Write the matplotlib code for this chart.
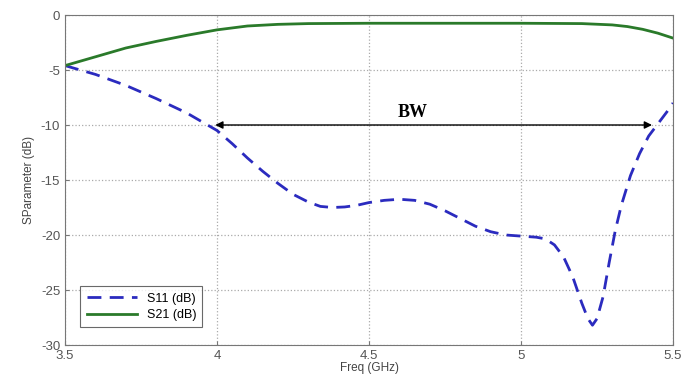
import matplotlib as mpl
mpl.use('Agg')
import matplotlib.pyplot as plt

# S11
freq_s11 = [3.5, 3.6, 3.7, 3.8, 3.9, 3.95, 4.0, 4.05, 4.1, 4.15, 4.2, 4.25, 4.3,
            4.34, 4.38, 4.42, 4.46, 4.5, 4.55, 4.6, 4.65, 4.7, 4.75, 4.8, 4.85,
            4.9, 4.95, 5.0, 5.05, 5.08, 5.11, 5.14, 5.17, 5.2, 5.22, 5.235, 5.25,
            5.27, 5.29, 5.31, 5.33, 5.36, 5.39, 5.42, 5.45, 5.48, 5.5]
s11 = [-4.6, -5.4, -6.4, -7.6, -8.9, -9.7, -10.5, -11.7, -13.0, -14.2, -15.3,
       -16.3, -17.0, -17.4, -17.5, -17.45, -17.3, -17.05, -16.85, -16.75, -16.85,
       -17.2, -17.8, -18.5, -19.2, -19.7, -20.0, -20.1, -20.2, -20.35, -20.9,
       -22.0, -23.8, -26.2, -27.6, -28.2, -27.6, -25.6, -22.5, -19.6, -17.3,
       -14.6, -12.6, -11.0, -9.9, -8.8, -8.0]

# S21
freq_s21 = [3.5, 3.6, 3.7, 3.8, 3.9, 4.0, 4.1, 4.2, 4.3, 4.5, 5.0, 5.2, 5.3,
            5.35, 5.4, 5.45, 5.5]
s21 = [-4.6, -3.8, -3.0, -2.4, -1.85, -1.35, -1.0, -0.85, -0.78, -0.75, -0.75,
       -0.78, -0.9, -1.05, -1.3, -1.65, -2.1]

bw_lo = 3.985
bw_hi = 5.44
bw_level = -10

plt.rcParams['font.family'] = ['Liberation Sans', 'DejaVu Sans']
plt.rcParams['axes.unicode_minus'] = False

fig = plt.figure(figsize=(6.97, 3.78), dpi=100)
ax = fig.add_axes([0.0933, 0.0873, 0.8723, 0.873])

ax.plot(freq_s11, s11, color='#2b2bbf', linestyle='--', linewidth=2, dashes=(5, 3), label='S11 (dB)')
ax.plot(freq_s21, s21, color='#2a7a2a', linewidth=2, label='S21 (dB)')

ax.annotate('', xy=(bw_lo, bw_level), xytext=(bw_hi, bw_level),
            arrowprops=dict(arrowstyle='<|-|>', color='black', lw=1, mutation_scale=11))
ax.text(4.645, -8.9, 'BW', family='Liberation Serif', fontweight='bold', fontsize=13,
        ha='center', va='center')

ax.set_xlim(3.5, 5.5)
ax.set_ylim(-30, 0)
ax.set_xticks([3.5, 4, 4.5, 5, 5.5])
ax.set_xticklabels(['3.5', '4', '4.5', '5', '5.5'])
ax.set_yticks([0, -5, -10, -15, -20, -25, -30])
ax.grid(True, linestyle=':', color='#aaaaaa', linewidth=0.9)
ax.tick_params(direction='in', labelsize=9.5, labelcolor='#555555', color='#777777', length=3)
for s in ax.spines.values():
    s.set_color('#777777')

ax.set_xlabel('Freq (GHz)', fontsize=8.5, color='#444444', labelpad=0)
ax.set_ylabel('SParameter (dB)', fontsize=8.5, color='#444444', labelpad=4)

leg = ax.legend(loc='lower left', bbox_to_anchor=(0.015, 0.035), fontsize=9,
                fancybox=False, edgecolor='#444444', handlelength=4, borderpad=0.5,
                labelspacing=0.35)
leg.get_frame().set_linewidth(0.8)

fig.savefig('out.png', dpi=100)
